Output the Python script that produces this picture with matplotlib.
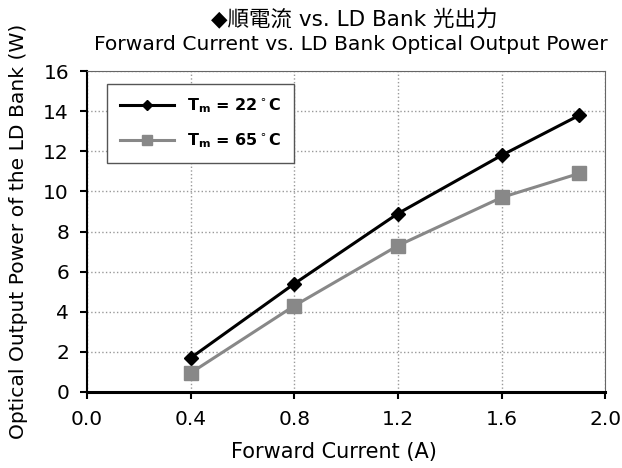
import matplotlib
matplotlib.use('Agg')
import matplotlib.pyplot as plt

# data
current = [0.4, 0.8, 1.2, 1.6, 1.9]
power_22 = [1.7, 5.4, 8.9, 11.8, 13.8]
power_65 = [0.95, 4.3, 7.3, 9.7, 10.9]
x_ticks = [0.0, 0.4, 0.8, 1.2, 1.6, 2.0]
y_ticks = [0, 2, 4, 6, 8, 10, 12, 14, 16]

plt.rcParams['font.family'] = ['DejaVu Sans', 'Noto Sans CJK TC']

fig = plt.figure(figsize=(6.22, 4.68), dpi=100)
ax = fig.add_axes([0.140, 0.1624, 0.833, 0.6856])

ax.plot(current, power_22, color='black', lw=2.2, marker='D', ms=7, label=r'T$_\mathregular{m}$ = 22$^\circ$C')
ax.plot(current, power_65, color='#888888', lw=2.2, marker='s', ms=10, label=r'T$_\mathregular{m}$ = 65$^\circ$C')

ax.set_xlim(0, 2.0)
ax.set_ylim(0, 16)
ax.set_xticks(x_ticks)
ax.set_xticklabels([f'{t:.1f}' for t in x_ticks])
ax.set_yticks(y_ticks)
ax.tick_params(labelsize=14.5, direction='out', length=5, width=1.5, pad=8)
ax.grid(True, color='#999999', linestyle=':', lw=1)

for s in ['top', 'right']:
    ax.spines[s].set_color('#666666')
    ax.spines[s].set_linewidth(0.8)
ax.spines['left'].set_linewidth(1.5)
ax.spines['bottom'].set_linewidth(2.2)

ax.set_xlabel('Forward Current (A)', fontsize=15)
ax.set_ylabel('Optical Output Power of the LD Bank (W)', fontsize=14.6)
ax.xaxis.set_label_coords(0.477, -0.156)
ax.yaxis.set_label_coords(-0.114, 0.5)

fig.text(0.569, 0.957, '◆順電流 vs. LD Bank 光出力', ha='center', va='center', fontsize=15.5)
fig.text(0.564, 0.904, 'Forward Current vs. LD Bank Optical Output Power', ha='center', va='center', fontsize=14.6)

leg = ax.legend(loc='upper left', bbox_to_anchor=(0.0386, 0.96), borderaxespad=0, fancybox=False,
                edgecolor='#555555', prop={'weight': 'bold', 'size': 11.5}, handlelength=3.4,
                labelspacing=1.0, borderpad=0.8, markerscale=0.7, framealpha=1)
leg.get_frame().set_linewidth(1)

fig.savefig('out.png', dpi=100)
